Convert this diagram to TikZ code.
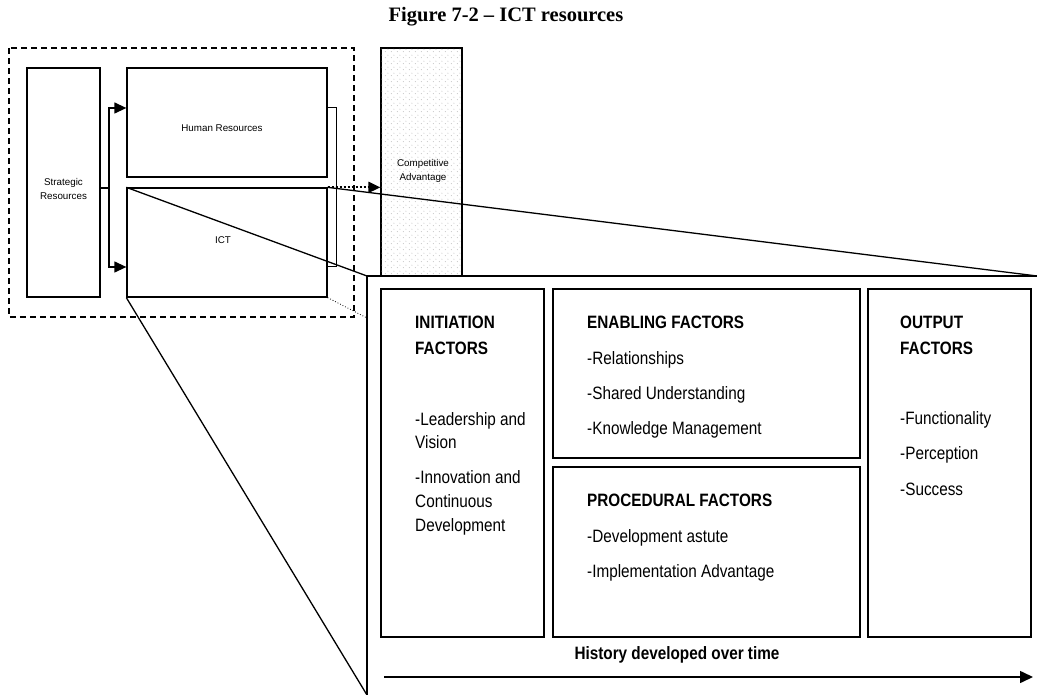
\documentclass[tikz,border=0pt]{standalone}
\usepackage{fontspec}
\setmainfont{Liberation Sans}
\newfontfamily\titlefont{Liberation Serif}
\usetikzlibrary{arrows.meta,patterns.meta}
\tikzdeclarepattern{name=cadots,type=uncolored,
  bounding box={(0pt,0pt) and (6pt,6pt)},tile size={(6pt,6pt)},
  code={\fill (1.5pt,1.5pt) circle (0.55pt); \fill (4.5pt,4.5pt) circle (0.55pt);}}
\newcommand\tl[1]{\scalebox{1}[1.17]{#1}}
\begin{document}
\begin{tikzpicture}[x=1pt,y=-1pt,
  box/.style={draw,line width=1.3pt,inner sep=0pt},
  small/.style={font=\fontsize{9.8}{13.5}\selectfont,align=center,inner sep=0pt},
  txt/.style={anchor=base west,inner sep=0pt,font=\fontsize{15.3}{18}\selectfont},
  head/.style={txt,font=\fontsize{15.3}{18}\selectfont\bfseries},
  tri/.style={-{Triangle[length=12pt,width=11pt]}},
  zoomline/.style={line width=1.3pt}]
\useasboundingbox (0,0) rectangle (1037,695);
% title
\node[inner sep=0pt,font=\titlefont\fontsize{20.5}{24}\selectfont\bfseries] (title) at (506,17) {Figure 7-2 – ICT resources};
% dashed frame
\draw[line width=1.3pt,dash pattern=on 6pt off 4pt] (9,48) rectangle (354,317);
% boxes left
\node[box,minimum width=73pt,minimum height=229pt] (strat) at (63.5,182.5) {};
\node[box,minimum width=200pt,minimum height=109pt] (hr) at (227,122.5) {};
\node[box,minimum width=200pt,minimum height=109pt] (ict) at (227,242.5) {};
\node[small] (strattxt) at (63.5,189) {Strategic\\Resources};
\node[small] (hrtxt) at (222,128) {Human Resources};
\node[small] (icttxt) at (223,240) {ICT};
% bracket
\coordinate (b1) at (hr.east |- 0,108);
\coordinate (b2) at (ict.east |- 0,267);
\draw[line width=1pt] (b1) -- ++(9,0) |- (b2);
% connector
\coordinate (s0) at (strat.east |- 0,188);
\coordinate (sj) at (109,188);
\draw[line width=1.3pt] (s0) -- (sj);
\draw[line width=1.3pt,tri] (sj) |- (hr.west |- 0,108);
\draw[line width=1.3pt,tri] (sj) |- (ict.west |- 0,267);
% competitive advantage
\node[box,minimum width=81pt,minimum height=228pt,fill=white,postaction={pattern={cadots},pattern color=gray!65}] (ca) at (421.5,162) {};
\node[small] (catxt) at (423,171) {Competitive\\Advantage};
\draw[line width=2pt,dotted,tri] (ict.north east) -- (ca.west |- ict.north east);
% zoom lines
\coordinate (bigtl) at (367,276);
\coordinate (bigtr) at (1037,276);
\coordinate (bigbl) at (367,695);
\draw[zoomline] (ict.north west) -- (bigtl);
\draw[zoomline] (ict.north east) -- (bigtr);
\draw[zoomline] (ict.south west) -- (bigbl);
\draw[line width=0.8pt,dotted] (ict.south east) -- (367,318);
% big frame
\draw[zoomline] (bigbl) -- (bigtl) -- (bigtr);
% inner boxes
\draw[box] (381,289) rectangle (544,637);
\draw[box] (553,289) rectangle (860,458);
\draw[box] (553,467) rectangle (860,637);
\draw[box] (868,289) rectangle (1031,637);
% initiation
\node[head] (i1) at (415,329) {\tl{INITIATION}};
\node[head] (i2) at (415,354) {\tl{FACTORS}};
\node[txt] (i3) at (415,425) {\tl{-Leadership and}};
\node[txt] (i4) at (415,448) {\tl{Vision}};
\node[txt] (i5) at (415,483) {\tl{-Innovation and}};
\node[txt] (i6) at (415,507) {\tl{Continuous}};
\node[txt] (i7) at (415,531) {\tl{Development}};
% enabling
\node[head] (e1) at (587,328) {\tl{ENABLING FACTORS}};
\node[txt] (e2) at (587,364) {\tl{-Relationships}};
\node[txt] (e3) at (587,399) {\tl{-Shared Understanding}};
\node[txt] (e4) at (587,434) {\tl{-Knowledge Management}};
% procedural
\node[head] (p1) at (587,506) {\tl{PROCEDURAL FACTORS}};
\node[txt] (p2) at (587,542) {\tl{-Development astute}};
\node[txt] (p3) at (587,577) {\tl{-Implementation Advantage}};
% output
\node[head] (o1) at (900,329) {\tl{OUTPUT}};
\node[head] (o2) at (900,354) {\tl{FACTORS}};
\node[txt] (o3) at (900,424) {\tl{-Functionality}};
\node[txt] (o4) at (900,459) {\tl{-Perception}};
\node[txt] (o5) at (900,495) {\tl{-Success}};
% history
\node[inner sep=0pt,font=\fontsize{15.3}{18}\selectfont\bfseries] (hist) at (677,655) {\tl{History developed over time}};
\coordinate (h0) at (384,677);
\coordinate (h1) at (1033,677);
\draw[line width=1.6pt,-{Triangle[length=13pt,width=12pt]}] (h0) -- (h1);
\end{tikzpicture}
\end{document}
